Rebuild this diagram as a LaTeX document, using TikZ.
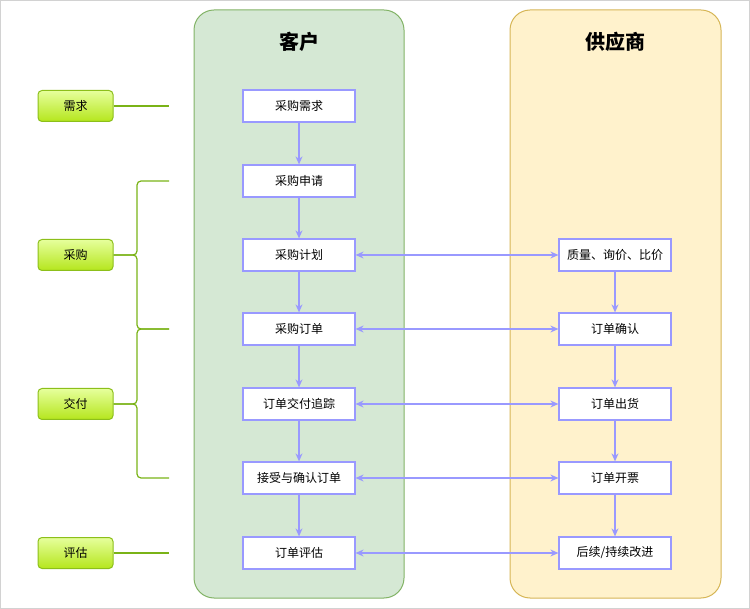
\documentclass[tikz,border=0pt]{standalone}
\usepackage{fontspec}
\setmainfont{Noto Sans CJK SC}
\usetikzlibrary{arrows.meta}
\definecolor{laneGfill}{HTML}{D5E8D4}
\definecolor{laneGdraw}{HTML}{82B366}
\definecolor{laneYfill}{HTML}{FFF2CC}
\definecolor{laneYdraw}{HTML}{D6B656}
\definecolor{boxline}{HTML}{9999FF}
\definecolor{lblTop}{HTML}{E6FF9C}
\definecolor{lblBot}{HTML}{B5E61D}
\definecolor{lblDraw}{HTML}{8CBF1A}
\definecolor{brace}{HTML}{7AB317}
\tikzset{
  lane/.style={rounded corners=20pt, line width=1pt},
  proc/.style={draw=boxline, fill=white, line width=1.2pt, minimum width=112pt, minimum height=32pt, inner sep=0pt, font=\fontsize{12}{14}\selectfont},
  lbl/.style={draw=lblDraw, top color=lblTop, bottom color=lblBot, rounded corners=4pt, line width=1pt, minimum width=75pt, minimum height=31pt, inner sep=0pt, font=\fontsize{12}{14}\selectfont},
  flow/.style={draw=boxline, line width=1.2pt, -{Stealth[length=8pt,width=7pt]}},
  biflow/.style={draw=boxline, line width=1.2pt, {Stealth[length=8pt,width=7pt]}-{Stealth[length=8pt,width=7pt]}},
  br/.style={draw=brace, line width=1.2pt, rounded corners=4pt},
  title/.style={font=\fontsize{20}{24}\selectfont\bfseries}
}
\begin{document}
\begin{tikzpicture}[x=1pt,y=-1pt]
\useasboundingbox (0,0) rectangle (750,609);
\draw[gray!35, line width=1pt] (0.5,0.5) rectangle (749.5,608.5);
% lanes
\draw[lane, fill=laneGfill, draw=laneGdraw] (194,10) rectangle (404,598);
\draw[lane, fill=laneYfill, draw=laneYdraw] (510,10) rectangle (721,598);
\node[title] (tc) at (299,42) {客户};
\node[title] (ts) at (615,42) {供应商};
% customer nodes
\node[proc] (c1) at (299,106) {采购需求};
\node[proc] (c2) at (299,181) {采购申请};
\node[proc] (c3) at (299,255) {采购计划};
\node[proc] (c4) at (299,329) {采购订单};
\node[proc] (c5) at (299,404) {订单交付追踪};
\node[proc] (c6) at (299,478) {接受与确认订单};
\node[proc] (c7) at (299,553) {订单评估};
% supplier nodes
\node[proc] (s3) at (615,255) {质量、询价、比价};
\node[proc] (s4) at (615,329) {订单确认};
\node[proc] (s5) at (615,404) {订单出货};
\node[proc] (s6) at (615,478) {订单开票};
\node[proc] (s7) at (615,553) {后续/持续改进};
% vertical flows
\draw[flow] (c1) -- (c2);
\draw[flow] (c2) -- (c3);
\draw[flow] (c3) -- (c4);
\draw[flow] (c4) -- (c5);
\draw[flow] (c5) -- (c6);
\draw[flow] (c6) -- (c7);
\draw[flow] (s3) -- (s4);
\draw[flow] (s4) -- (s5);
\draw[flow] (s5) -- (s6);
\draw[flow] (s6) -- (s7);
% horizontal bidirectional
\draw[biflow] (c3) -- (s3);
\draw[biflow] (c4) -- (s4);
\draw[biflow] (c5) -- (s5);
\draw[biflow] (c6) -- (s6);
\draw[biflow] (c7) -- (s7);
% left labels
\node[lbl] (l1) at (75.5,106) {需求};
\node[lbl] (l2) at (75.5,255) {采购};
\node[lbl] (l3) at (75.5,404) {交付};
\node[lbl] (l4) at (75.5,553) {评估};
\coordinate (e1) at (169,106);
\coordinate (e2a) at (169,181);
\coordinate (e2b) at (169,329);
\coordinate (e3b) at (169,478);
\coordinate (e4) at (169,553);
\draw[draw=brace, line width=1.2pt] (l1.east) -- (e1);
\draw[draw=brace, line width=1.2pt] (l4.east) -- (e4);
\draw[br] (e2a) -- (137,181) -- (137,255) -- (l2.east);
\draw[br] (e2b) -- (137,329) -- (137,255) -- (l2.east);
\draw[br] (e2b) -- (137,329) -- (137,404) -- (l3.east);
\draw[br] (e3b) -- (137,478) -- (137,404) -- (l3.east);
\end{tikzpicture}
\end{document}
